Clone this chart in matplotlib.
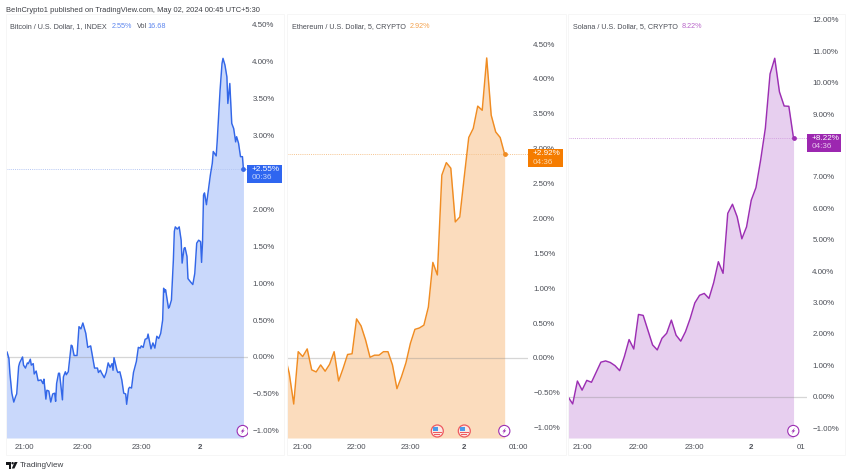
import matplotlib
matplotlib.use('Agg')
import matplotlib.pyplot as plt
from matplotlib.patches import Circle, Polygon, Rectangle

WIDTH = 850
HEIGHT = 476

# Percent change, minutes are counted from 21:00
btc_minutes = [-19, -18, -16, -15, -13, -11, -9, -8, -6, -5, -2, -1, 1, 3, 4, 6, 7, 9, 10, 12,
               14, 17, 19, 20, 22, 23, 25, 27, 29, 31, 32, 33, 35, 36, 39, 40, 42, 43, 45, 48,
               49, 51, 54, 56, 58, 60, 63, 65, 68, 70, 72, 75, 76, 78, 79, 82, 84, 86, 88, 90,
               91, 92, 95, 96, 98, 100, 102, 104, 105, 107, 108, 110, 112, 115, 117, 119, 120, 122, 124, 126,
               127, 129, 130, 132, 134, 136, 138, 140, 142, 143, 144, 145, 148, 149, 151, 153, 154, 155, 157, 159,
               161, 162, 164, 165, 167, 168, 171, 173, 175, 177, 179, 181, 182, 183, 184, 185, 187, 189, 191, 193,
               194, 197, 198, 201, 203, 204, 206, 208, 209, 211, 213, 215, 217, 218, 220, 222, 224, 225]
btc_values = [0.03, 0.07, -0.02, -0.22, -0.49, -0.61, -0.53, -0.50, -0.13, -0.08, 0.0, -0.11, -0.15, -0.08, -0.09, -0.03, -0.11, -0.09, -0.23, -0.19,
              -0.32, -0.31, -0.36, -0.30, -0.57, -0.45, -0.46, -0.61, -0.50, -0.49, -0.60, -0.36, -0.22, -0.22, -0.58, -0.27, -0.20, -0.24, -0.20, 0.16,
              0.15, 0.02, 0.02, 0.41, 0.38, 0.46, 0.32, 0.13, 0.15, 0.0, -0.15, -0.15, -0.21, -0.18, -0.21, -0.28, -0.21, -0.08, -0.14, -0.09,
              -0.18, -0.01, -0.18, -0.21, -0.20, -0.31, -0.49, -0.50, -0.64, -0.43, -0.41, -0.42, -0.21, -0.06, 0.13, 0.12, 0.15, 0.13, 0.24, 0.25,
              0.31, 0.18, 0.11, 0.19, 0.12, 0.28, 0.25, 0.32, 0.50, 0.93, 0.88, 0.91, 0.66, 0.68, 0.77, 1.31, 1.70, 1.76, 1.73, 1.76,
              1.58, 1.27, 1.47, 1.48, 1.36, 1.06, 1.01, 0.98, 1.13, 1.54, 1.58, 1.56, 1.28, 1.56, 2.19, 2.22, 2.06, 2.26, 2.46, 2.62,
              2.78, 2.72, 2.91, 3.61, 3.97, 4.04, 3.95, 3.79, 3.43, 3.70, 3.16, 3.09, 2.91, 2.98, 2.89, 2.71, 2.71, 2.54]

eth_minutes = list(range(-20, 230, 5))
eth_values = [0.04, -0.22, -0.66, 0.09, 0.02, 0.13, -0.17, -0.20, -0.10, -0.19,
              -0.09, 0.09, -0.33, -0.15, 0.05, 0.06, 0.56, 0.46, 0.26, 0.01,
              0.04, 0.04, 0.09, 0.09, -0.10, -0.44, -0.27, -0.07, 0.21, 0.41,
              0.43, 0.47, 0.73, 1.37, 1.19, 2.62, 2.80, 2.72, 1.95, 2.02,
              2.60, 3.16, 3.29, 3.61, 3.55, 4.30, 3.48, 3.24, 3.16, 2.92]

sol_minutes = list(range(-15, 230, 5))
sol_values = [0.0, -0.23, 0.50, 0.21, 0.52, 0.46, 0.78, 1.10, 1.14, 1.09,
              0.99, 0.83, 1.28, 1.82, 1.52, 2.62, 2.59, 2.12, 1.65, 1.49,
              1.86, 2.02, 2.44, 1.96, 1.77, 2.07, 2.49, 2.99, 3.23, 3.29,
              3.13, 3.63, 4.30, 3.93, 5.84, 6.13, 5.73, 5.03, 5.41, 6.26,
              6.66, 7.54, 8.55, 10.28, 10.78, 9.71, 9.26, 9.25, 8.23]

time_ticks = [0, 60, 120, 180]
time_labels = ['21:00', '22:00', '23:00', '2']
eth_time_ticks = [0, 60, 120, 180, 240]
eth_time_labels = ['21:00', '22:00', '23:00', '2', '01:00']

# 2.50% and 8.00% sit fully behind the price badges, so they are left out
btc_yticks = [-1, -0.5, 0, 0.5, 1, 1.5, 2, 3, 3.5, 4, 4.5]
eth_yticks = [-1, -0.5, 0, 0.5, 1, 1.5, 2, 2.5, 3, 3.5, 4, 4.5]
sol_yticks = [-1, 0, 1, 2, 3, 4, 5, 6, 7, 9, 10, 11, 12]

GREY = '#4c4f57'
BLUE = '#3367e8'
ORANGE = '#f08c22'
PURPLE = '#9c2fb3'
TICK_SIZE = 5.7
LEGEND_SIZE = 5.25

plt.rcParams['font.family'] = ['Liberation Sans', 'DejaVu Sans']

fig = plt.figure(figsize=(WIDTH / 100, HEIGHT / 100), dpi=100, facecolor='white')


def draw_panel(box, xlim, ylim, minutes, values, yticks, xticks, xlabels, line_color, fill_color, dash_color, pad):
    """
    Draw one percent chart, box holds left, right, top and bottom in pixels.
    """
    left, right, top, bottom = box
    ax = fig.add_axes([left / WIDTH, 1 - bottom / HEIGHT, (right - left) / WIDTH, (bottom - top) / HEIGHT])
    ax.set_xlim(*xlim)
    ax.set_ylim(*ylim)
    ax.patch.set_alpha(0)
    for spine in ax.spines.values():
        spine.set_visible(False)

    ax.fill_between(minutes, values, ylim[0], color=fill_color, lw=0, zorder=1)
    ax.axhline(0, color='#8a8a8a', lw=0.9, alpha=0.35, zorder=2)
    ax.axhline(values[-1], color=dash_color, lw=0.7, ls=(0, (1, 1.2)), zorder=2)
    ax.plot(minutes, values, color=line_color, lw=1.05, zorder=3, solid_joinstyle='round')
    ax.scatter(minutes[-1], values[-1], s=6, color=line_color, zorder=4, clip_on=False)

    ax.yaxis.tick_right()
    ax.set_yticks(yticks)
    ax.set_yticklabels(['{:.2f}%'.format(v).replace('-', '\u2212') for v in yticks])
    ax.set_xticks(xticks)
    ax.set_xticklabels(xlabels)
    ax.tick_params(axis='both', length=0, colors=GREY, labelsize=TICK_SIZE)
    ax.tick_params(axis='y', pad=pad)
    ax.tick_params(axis='x', pad=4.4)
    for tick_label, name in zip(ax.get_xticklabels(), xlabels):
        if name == '2':
            tick_label.set_fontweight('bold')
    return ax


draw_panel((6, 248, 14, 438), (-19, 229.7), (-1.096, 4.64), btc_minutes, btc_values,
           btc_yticks, time_ticks, time_labels, BLUE, '#c9d8fb', '#b4c6f3', 3.1)
draw_panel((287, 528, 14, 438), (-17.5, 251), (-1.147, 4.93), eth_minutes, eth_values,
           eth_yticks, eth_time_ticks, eth_time_labels, ORANGE, '#fbdcbd', '#f5c48f', 3.7)
draw_panel((568, 806.7, 14, 438), (-15, 239), (-1.315, 12.19), sol_minutes, sol_values,
           sol_yticks, time_ticks, time_labels, PURPLE, '#e7cfef', '#d3a3e0', 4.0)

# Overlay in pixel units for the frames, badges and captions
over = fig.add_axes([0, 0, 1, 1], zorder=10)
over.set_xlim(0, WIDTH)
over.set_ylim(HEIGHT, 0)
over.axis('off')

for x0, x1 in [(6, 284), (287, 566), (568, 845)]:
    over.add_patch(Rectangle((x0, 14), x1 - x0, 441, fill=False, ec='#f6f6f6', lw=0.7))


def label_box(x, y, color, change, clock, clock_color):
    over.add_patch(Rectangle((x, y), 34.4, 18, fc=color, ec='none'))
    over.text(x + 4.5, y + 4.8, change, color='white', fontsize=5.9, ha='left', va='center')
    over.text(x + 4.5, y + 13, clock, color=clock_color, fontsize=5.9, ha='left', va='center')


label_box(247.3, 164.5, '#2f66f0', '+2.55%', '00:36', '#c3d4fb')
label_box(528.3, 149, '#f57c00', '+2.92%', '04:36', '#fcd9ad')
label_box(807, 133.5, '#9c27b0', '+8.22%', '04:36', '#e6c4ec')


def flash_icon(x, y, clip=None):
    ring = Circle((x, y), 5.6, fc='white', ec=PURPLE, lw=0.8)
    bolt = Polygon([(x + 1.6, y - 3.2), (x - 2, y + 0.5), (x - 0.2, y + 0.5), (x - 1.6, y + 3.2),
                    (x + 2, y - 0.6), (x + 0.2, y - 0.6)], fc=PURPLE, ec='none')
    over.add_patch(ring)
    over.add_patch(bolt)
    if clip is not None:
        ring.set_clip_path(Rectangle((x - 8, y - 8), clip - x + 8, 16, transform=over.transData))


def flag_icon(x, y):
    over.add_patch(Circle((x, y), 6, fc='#fbe9e4', ec='#ee5a5f', lw=0.9))
    over.add_patch(Rectangle((x - 4.3, y - 3.6), 5.4, 4, fc='#4d9be8', ec='none'))
    over.add_patch(Rectangle((x - 4.3, y + 1), 8.6, 1.1, fc='#ee5a5f', ec='none'))
    over.add_patch(Rectangle((x - 3.2, y + 3), 6.4, 0.9, fc='#ee5a5f', ec='none'))


flash_icon(242.7, 431, clip=248)
flag_icon(437.3, 431)
flag_icon(464.3, 431)
flash_icon(504.3, 431)
flash_icon(793.3, 431)

over.text(6, 10.5, 'BeInCrypto1 published on TradingView.com, May 02, 2024 00:45 UTC+5:30',
          color='#3d3f45', fontsize=5.4, ha='left', va='center')

over.text(10.5, 26.5, 'Bitcoin / U.S. Dollar, 1, INDEX', color=GREY, fontsize=LEGEND_SIZE, va='center')
over.text(112, 26.5, '2.55%', color='#5d86ee', fontsize=LEGEND_SIZE, va='center')
over.text(137, 26.5, 'Vol', color=GREY, fontsize=LEGEND_SIZE, va='center')
over.text(147, 26.5, '16.68', color='#5d86ee', fontsize=LEGEND_SIZE, va='center')
over.text(292, 26.5, 'Ethereum / U.S. Dollar, 5, CRYPTO', color=GREY, fontsize=LEGEND_SIZE, va='center')
over.text(410, 26.5, '2.92%', color='#f3a14d', fontsize=LEGEND_SIZE, va='center')
over.text(573, 26.5, 'Solana / U.S. Dollar, 5, CRYPTO', color=GREY, fontsize=LEGEND_SIZE, va='center')
over.text(682, 26.5, '8.22%', color='#b866c9', fontsize=LEGEND_SIZE, va='center')

# Third chart has its last time label cut by the pane edge
over.text(797, 447.3, '01', color=GREY, fontsize=TICK_SIZE, ha='left', va='center')

# TradingView logo and name
over.add_patch(Polygon([(6, 462), (11.5, 462), (11.5, 468.5), (9, 468.5), (9, 464.6), (6, 464.6)], fc='#17181c', ec='none'))
over.add_patch(Circle((12.6, 463.2), 1.2, fc='#17181c', ec='none'))
over.add_patch(Polygon([(14.6, 462), (17.6, 462), (14.4, 468.5), (11.8, 468.5)], fc='#17181c', ec='none'))
over.text(20, 465.3, 'TradingView', color='#3d3f45', fontsize=5.8, ha='left', va='center')

fig.savefig('out.png', dpi=100, facecolor='white')
